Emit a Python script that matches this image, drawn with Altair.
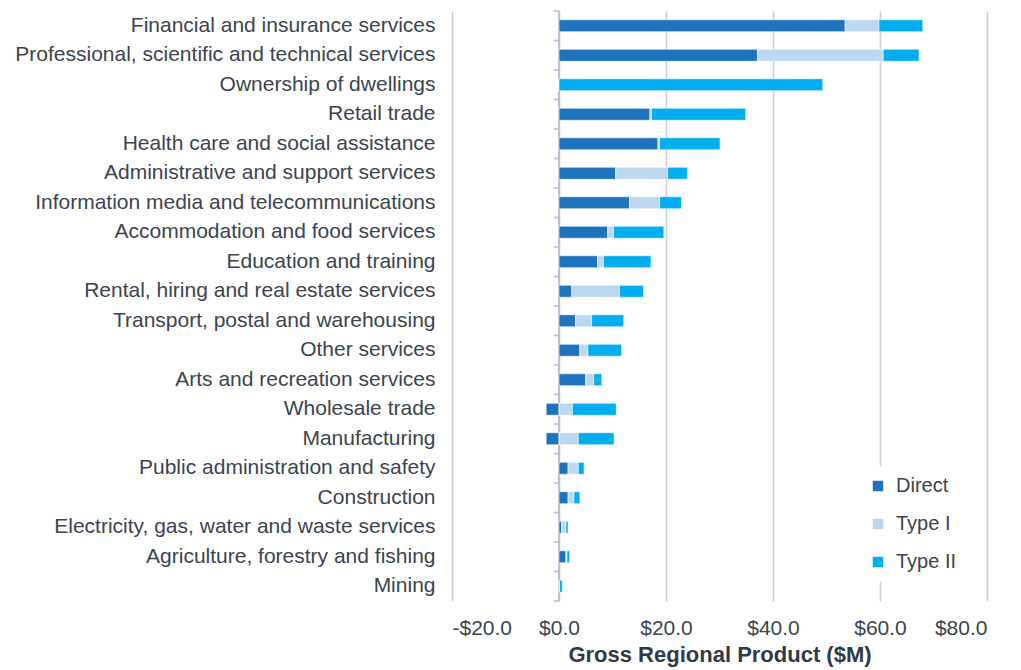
import altair as alt
import pandas as pd

categories = [
    "Financial and insurance services",
    "Professional, scientific and technical services",
    "Ownership of dwellings",
    "Retail trade",
    "Health care and social assistance",
    "Administrative and support services",
    "Information media and telecommunications",
    "Accommodation and food services",
    "Education and training",
    "Rental, hiring and real estate services",
    "Transport, postal and warehousing",
    "Other services",
    "Arts and recreation services",
    "Wholesale trade",
    "Manufacturing",
    "Public administration and safety",
    "Construction",
    "Electricity, gas, water and waste services",
    "Agriculture, forestry and fishing",
    "Mining",
]
direct = [53.5, 37.1, 0.0, 17.0, 18.5, 10.6, 13.2, 9.1, 7.2, 2.4, 3.1, 3.9, 5.0, -2.4, -2.4, 1.7, 1.7, 0.5, 1.3, 0.1]
type1 = [6.3, 23.5, 0.0, 0.3, 0.3, 9.7, 5.6, 1.1, 1.1, 8.9, 3.0, 1.5, 1.5, 2.5, 3.6, 1.9, 1.1, 0.8, 0.2, 0.0]
type2 = [8.2, 6.7, 49.3, 17.6, 11.3, 3.7, 4.1, 9.4, 8.9, 4.5, 6.0, 6.3, 1.5, 8.2, 6.7, 1.1, 1.1, 0.4, 0.5, 0.5]
series = ["Direct", "Type I", "Type II"]
colors = ["#1f73bd", "#bdd7ee", "#00adef"]
x_ticks = [-20, 0, 20, 40, 60, 80]

rows = []
for i, c in enumerate(categories):
    for k, (s, vals) in enumerate(zip(series, [direct, type1, type2])):
        rows.append({"cat": c, "series": s, "value": vals[i], "ord": k})
df = pd.DataFrame(rows)
cat_df = pd.DataFrame({"cat": categories})

FONT = "Liberation Sans"
TXT = "#3b4450"
GRID = "#c9d1d9"
AX = "#b8c2cc"

yscale = alt.Scale(domain=categories, paddingInner=0, paddingOuter=0)
xscale = alt.Scale(domain=[-20, 80], nice=False)

bars = alt.Chart(df).mark_bar(size=12, stroke="white", strokeWidth=0.6).encode(
    y=alt.Y("cat:N", scale=yscale, sort=categories, title=None,
            axis=alt.Axis(domain=False, ticks=False, labelPadding=17, labelLimit=600,
                          labelFontSize=21, labelColor=TXT, labelFont=FONT, grid=False)),
    x=alt.X("value:Q", stack="zero", scale=xscale,
            title="Gross Regional Product ($M)",
            axis=alt.Axis(values=x_ticks, grid=True, gridColor=GRID, gridWidth=1.6,
                          domain=False, ticks=False, labelPadding=16,
                          labelExpr="datum.value < 0 ? '-$' + format(-datum.value, '.1f') : '$' + format(datum.value, '.1f')",
                          labelFontSize=21, labelColor=TXT, labelFont=FONT,
                          titleFontSize=22, titleFont=FONT, titleFontWeight="bold",
                          titleColor="#2f3a46", titlePadding=6)),
    color=alt.Color("series:N", scale=alt.Scale(domain=series, range=colors),
                    legend=alt.Legend(title=None, orient="none", legendX=406, legendY=455,
                                      fillColor="white", padding=10, symbolType="square",
                                      symbolSize=110, symbolStrokeWidth=0,
                                      labelFontSize=20, labelColor=TXT, labelFont=FONT,
                                      rowPadding=18, symbolOffset=0, labelOffset=8)),
    order=alt.Order("ord:Q"),
)

zero = alt.Chart(cat_df).mark_rule(color=AX, strokeWidth=1.6).encode(
    x=alt.datum(0, scale=xscale),
    y=alt.value(0),
    y2=alt.value(590),
)

ticks_top = alt.Chart(cat_df).mark_rule(color=AX, strokeWidth=1.6).encode(
    y=alt.Y("cat:N", scale=yscale, sort=categories, bandPosition=0),
    x=alt.datum(-1.0),
    x2=alt.datum(0),
)
ticks_bottom = alt.Chart(pd.DataFrame({"cat": [categories[-1]]})).mark_rule(
    color=AX, strokeWidth=1.6).encode(
    y=alt.Y("cat:N", scale=yscale, sort=categories, bandPosition=1),
    x=alt.datum(-1.0),
    x2=alt.datum(0),
)

chart = alt.layer(zero, bars, ticks_top, ticks_bottom).properties(
    width=535, height=590,
    padding={"left": 6, "top": 2, "right": 20, "bottom": 2},
).configure_view(stroke=None)

chart.save("out.html", embed_options={"renderer": "svg", "actions": False})
